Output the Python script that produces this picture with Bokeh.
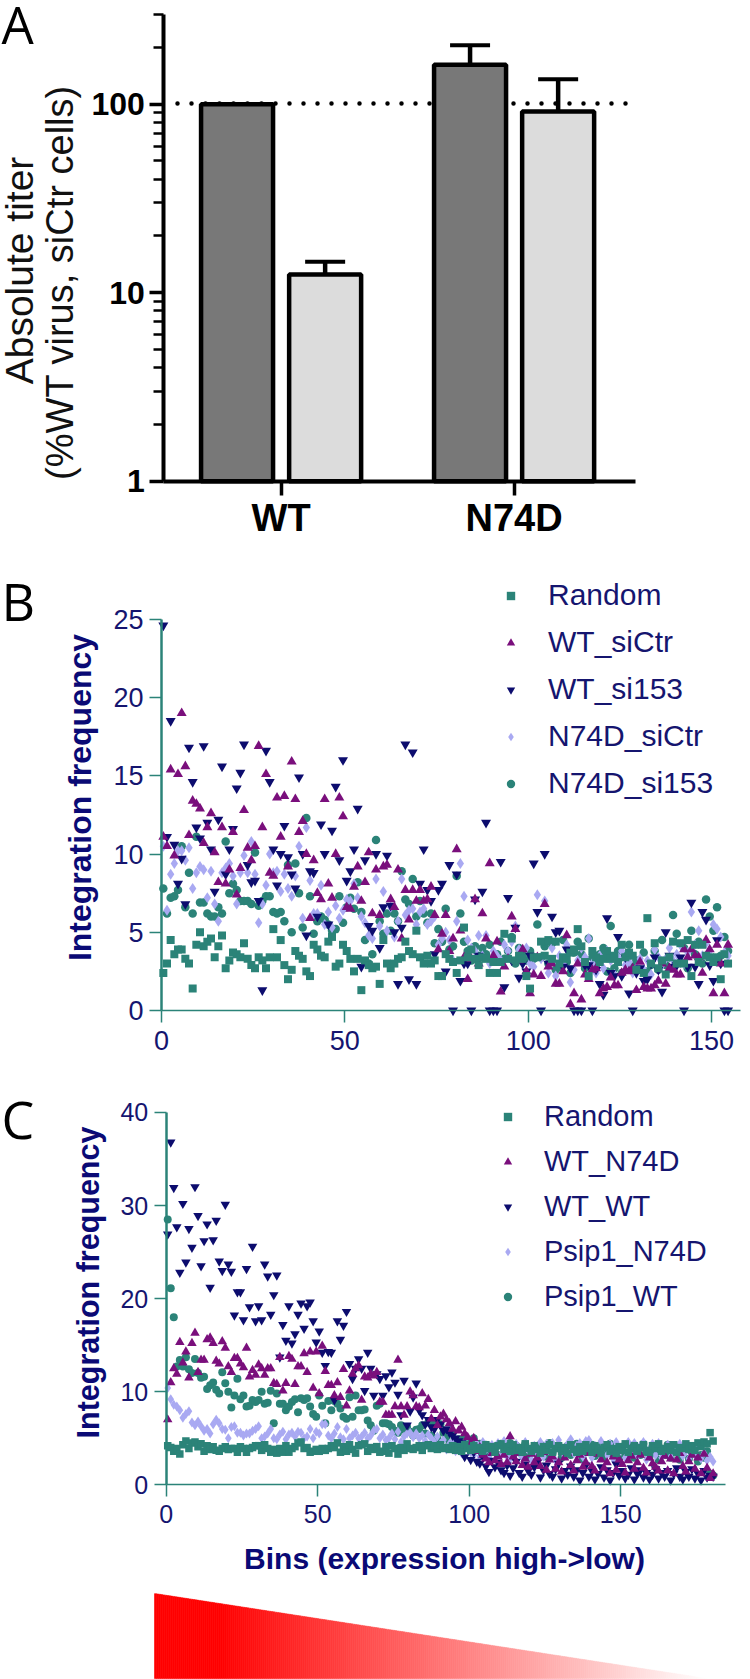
import math
from bokeh.embed import file_html
from bokeh.resources import INLINE
from bokeh.layouts import column
from bokeh.plotting import figure
from bokeh.models import FixedTicker, Label, Legend, LegendItem, Whisker, TeeHead, ColumnDataSource

# ---------- Panel A ----------
bar_groups = ["WT", "N74D"]
bar_group_index = [0, 0, 1, 1]
bar_offset = [-0.189, 0.189, -0.189, 0.189]
bar_values = [100, 12.5, 162, 91.4]
bar_upper = [100, 14.6, 205.7, 135.8]
bar_fill = ["#787878", "#DCDCDC", "#787878", "#DCDCDC"]

# ---------- Panel B ----------
b_names = ["Random", "WT_siCtr", "WT_si153", "N74D_siCtr", "N74D_si153"]
b_random = [
2.4,3.0,4.5,3.6,3.9,3.9,3.3,3.0,1.4,4.2,5.0,4.1,4.4,4.6,3.4,4.1,4.8,2.7,3.2,3.7,
3.6,3.4,4.3,3.3,2.9,2.7,3.4,3.2,2.7,3.4,5.2,3.4,4.5,2.9,2.0,2.6,3.8,3.5,3.3,2.5,
2.2,4.2,3.9,3.5,3.4,4.4,4.7,2.8,3.0,4.2,3.8,3.3,2.5,3.3,1.3,3.2,2.9,2.7,2.8,1.7,
4.5,3.0,2.7,3.0,3.3,3.4,4.4,3.8,3.6,5.1,3.4,3.0,3.5,3.0,3.2,2.2,2.2,3.6,3.3,3.1,
2.4,3.2,5.3,3.4,3.9,3.3,2.9,3.4,3.3,2.4,3.1,2.4,3.1,4.9,3.3,4.6,3.2,3.5,3.3,2.2,
1.4,3.4,3.4,4.4,3.5,4.5,3.3,4.4,3.0,3.4,3.3,3.7,3.9,5.2,4.1,3.1,2.2,3.8,3.4,3.1,
3.3,3.8,3.3,3.5,3.1,4.2,3.4,3.7,3.5,2.6,4.2,2.4,5.9,3.0,4.3,2.7,3.2,2.3,3.4,4.4,
3.0,4.3,3.0,4.5,2.2,4.2,3.1,4.2,3.5,3.4,3.1,3.4,2.0,3.6,3.0]
b_wt_sictr = [
11.1,10.5,15.4,9.9,15.1,19.0,15.6,11.2,13.4,13.2,12.9,10.7,11.7,12.6,10.1,8.2,11.7,8.1,9.0,11.4,
7.4,9.1,12.8,10.4,9.6,10.5,16.9,11.7,15.1,8.8,8.6,13.6,11.1,13.7,9.2,15.9,13.5,11.4,12.1,10.0,
5.9,9.6,7.5,7.1,13.5,8.1,7.2,10.0,13.6,12.4,6.6,6.5,7.9,9.2,7.0,8.2,10.1,6.2,9.0,6.1,
9.2,9.3,7.1,6.6,9.0,4.6,7.7,5.8,7.7,7.0,7.7,7.0,7.1,7.9,6.1,3.9,4.9,6.1,3.8,4.6,
10.3,5.1,3.4,2.0,3.3,7.1,3.0,6.2,4.6,9.4,3.5,4.4,1.2,2.8,3.3,6.0,5.2,3.2,3.9,2.5,
1.1,2.3,3.4,2.2,6.8,2.8,3.0,1.7,1.7,2.5,4.8,0.4,1.1,3.0,0.7,2.3,2.0,2.6,2.7,1.1,
1.4,1.5,2.1,1.6,1.6,2.4,2.6,2.5,2.7,1.3,3.1,1.5,1.4,1.4,1.6,1.9,3.0,1.7,2.7,2.6,
2.3,2.3,3.9,3.4,3.9,3.5,3.4,2.4,4.5,3.9,1.1,4.2,3.0,1.1,4.2]
b_wt_si153 = [
24.6,11.1,18.5,10.6,8.1,9.7,6.8,16.8,14.6,11.7,11.0,16.9,12.0,10.3,7.6,12.2,15.6,8.7,10.3,11.6,
14.2,15.2,17.0,9.3,8.2,8.3,7.0,1.3,16.6,14.6,10.3,8.0,10.0,11.8,9.8,8.7,7.8,14.9,10.0,4.8,
8.9,8.8,6.0,11.9,10.0,5.5,11.5,14.3,9.6,16.0,8.3,8.9,10.3,12.9,2.8,9.6,5.4,5.1,10.0,4.0,
6.6,9.9,6.7,5.0,1.7,5.3,17.0,2.0,16.5,1.7,8.1,10.3,7.7,7.0,3.6,7.7,8.1,2.5,9.3,0,
8.7,1.9,3.0,3.0,0,7.1,3.5,7.6,12.0,0,0,0,9.5,1.5,7.2,3.2,5.3,2.1,3.0,2.5,
3.5,9.4,6.3,0,10.0,3.0,6.0,5.0,5.1,2.8,3.9,2.7,0,0,0,2.9,2.9,0,2.6,1.7,
1.0,5.9,2.4,2.2,4.7,2.2,3.4,1.1,0,2.4,2.7,1.9,2.0,3.0,3.4,2.6,1.2,5.0,3.5,2.8,
2.9,3.4,0,2.8,6.9,2.8,1.7,6.3,5.8,2.9,1.9,4.5,3.0,0,0]
b_n74d_sictr = [
10.5,6.4,8.7,9.4,10.2,10.2,9.6,10.4,7.8,8.8,9.2,9.0,7.2,8.9,6.8,5.7,8.8,9.1,9.4,8.6,
6.8,8.8,9.9,8.8,10.8,8.7,5.6,6.8,8.0,10.0,8.8,8.9,7.6,8.7,7.8,7.3,8.6,10.5,5.9,11.7,
8.3,6.2,6.2,8.0,5.5,6.3,5.3,6.7,5.9,6.4,7.1,7.0,8.1,7.2,6.0,5.6,4.8,4.6,8.4,5.4,
7.6,5.1,6.6,4.7,5.7,8.4,6.1,6.4,6.5,5.5,6.3,6.5,5.5,5.7,6.0,4.2,4.6,5.0,4.5,3.2,
5.7,9.4,7.3,4.5,4.0,3.8,4.8,3.5,4.8,3.0,3.8,3.5,3.2,4.2,3.8,4.4,5.4,3.9,3.2,4.0,
3.0,2.8,7.4,3.3,7.0,2.4,4.0,2.2,3.5,3.0,4.2,1.8,2.6,3.2,4.0,3.4,4.6,3.0,2.4,3.5,
2.7,3.8,3.2,2.3,3.4,3.8,2.9,3.1,2.4,2.7,3.3,2.6,3.2,2.3,3.9,3.4,2.9,3.3,4.0,3.2,
3.6,4.2,3.0,3.7,6.3,4.2,5.1,3.5,4.3,3.8,5.5,5.2,4.7,3.7,3.5]
b_n74d_si153 = [
7.8,6.2,7.2,7.3,7.7,10.5,6.6,8.8,6.2,11.1,6.9,6.9,6.2,6.0,6.0,6.6,6.2,10.8,7.5,8.1,
7.7,7.0,7.0,7.0,6.8,10.1,6.7,7.0,7.3,7.3,6.3,6.2,6.3,5.7,9.3,5.0,9.4,7.5,5.3,12.3,
7.3,4.9,5.7,6.0,5.8,5.5,5.1,5.2,7.3,5.6,6.6,7.2,6.5,8.2,6.3,4.5,3.0,3.6,10.9,5.7,
4.9,6.2,5.1,6.2,5.7,8.9,7.1,6.8,8.4,6.0,7.0,6.2,5.6,6.2,4.3,5.2,4.4,6.5,3.9,4.1,
8.6,6.2,4.4,3.8,3.2,4.1,3.5,4.0,3.6,4.2,3.2,3.6,4.4,3.3,3.8,4.7,3.0,4.0,3.6,3.2,
3.8,3.3,5.5,3.4,4.1,3.0,4.3,2.6,2.8,4.5,3.1,2.4,3.7,4.4,3.6,2.7,4.6,3.4,2.9,3.6,
4.0,2.5,5.4,2.7,3.8,2.4,3.5,4.2,2.8,3.2,2.6,3.7,2.5,2.9,3.8,2.6,4.5,2.9,3.4,6.1,
4.9,3.1,4.0,2.7,5.1,3.6,4.4,3.0,7.1,6.0,5.1,6.6,3.5,4.7,3.8]

# ---------- Panel C ----------
c_names = ["Random", "WT_N74D", "WT_WT", "Psip1_N74D", "Psip1_WT"]
c_random = [
4.2,4.0,3.6,3.9,3.3,4.3,4.7,3.9,4.5,4.6,4.1,4.4,3.6,4.2,3.8,4.1,3.7,3.6,3.9,4.1,
3.8,3.9,3.9,3.5,4.1,3.9,3.5,3.9,4.0,4.2,4.2,3.7,4.3,3.9,3.5,3.8,3.4,3.9,3.5,4.2,
3.5,3.9,4.1,4.5,4.6,3.9,4.0,3.5,3.6,3.8,3.6,3.9,3.7,3.9,4.2,4.0,4.5,3.5,4.1,3.6,
4.3,3.8,3.4,4.2,4.3,4.4,3.6,4.0,3.8,4.1,3.5,3.6,4.1,3.4,4.2,3.9,3.3,4.0,3.7,4.4,
3.9,3.8,4.0,4.2,3.7,4.2,4.3,3.9,4.2,3.8,4.3,3.9,4.0,3.8,4.2,3.7,4.1,3.6,4.3,3.9,
3.7,4.2,3.8,4.0,3.6,4.3,3.9,4.1,3.5,4.2,4.4,3.8,4.1,3.6,4.3,3.7,4.0,3.5,4.4,3.9,
3.6,4.2,3.8,3.4,4.1,3.7,4.3,3.5,3.9,4.2,3.6,4.0,3.4,4.3,3.8,3.5,4.1,3.6,4.3,3.9,
3.5,4.2,3.7,3.4,4.0,4.3,3.6,3.9,3.4,4.1,3.7,4.4,3.5,3.9,4.2,3.6,4.0,4.3,3.7,3.5,
4.2,3.9,4.4,3.6,3.8,4.1,3.7,4.3,3.5,4.0,3.9,4.4,3.8,4.2,3.7,4.5,4.1,4.6,4.4,5.6,4.7]
c_wt_n74d = [
7.0,11.0,12.5,11.9,15.3,13.1,14.3,11.5,15.2,16.3,12.1,13.4,13.4,15.6,15.8,15.2,13.3,13.0,15.4,14.7,
12.7,12.1,13.6,13.6,13.0,12.6,14.7,11.6,12.3,11.8,12.9,12.5,11.8,12.5,12.5,10.9,10.8,13.7,10.1,10.9,
13.8,13.5,10.8,12.7,12.7,14.1,12.1,14.3,10.4,14.3,9.8,14.9,12.2,10.7,10.7,9.6,11.0,9.4,12.4,8.5,
10.1,11.9,12.5,12.8,9.1,11.6,11.5,11.9,11.7,12.1,8.9,8.9,7.5,7.5,7.5,8.4,13.4,8.4,7.5,8.4,
10.0,9.6,8.4,8.3,9.8,8.5,9.2,7.1,8.0,6.4,7.3,7.6,7.0,6.6,6.0,6.8,5.8,6.2,5.5,5.1,
4.4,5.0,3.6,4.0,3.2,2.8,2.4,3.4,2.6,3.0,2.2,3.2,2.4,5.2,3.0,2.5,3.4,2.1,2.8,1.9,
3.3,2.4,2.9,2.0,3.5,1.6,2.7,3.0,1.7,2.4,1.4,2.9,3.4,2.1,1.5,2.6,3.2,1.9,2.4,3.4,
2.0,1.5,3.3,2.7,1.8,2.4,1.2,3.0,1.6,2.7,2.2,1.3,2.6,3.1,1.7,2.4,3.2,1.8,1.3,2.9,
2.3,1.9,1.5,2.5,3.1,1.5,2.8,1.2,2.7,3.4,2.0,1.4,2.5,3.2,1.7,2.9,1.2,3.3,1.8,0.7,1.2]
c_wt_wt = [
26.9,36.8,31.9,27.7,22.8,30.2,23.9,27.5,25.5,32.0,28.9,23.5,26.2,28.0,21.2,26.3,28.4,24.0,23.0,30.1,
23.7,22.9,18.2,20.7,20.7,17.7,23.2,19.1,25.6,17.6,19.2,17.7,23.7,22.4,18.3,20.4,22.5,13.7,17.2,15.5,
19.2,15.2,16.2,18.3,19.5,16.8,19.2,19.6,17.6,15.3,16.5,14.2,12.8,14.3,14.2,9.1,17.6,15.6,17.1,18.6,
13.0,11.4,12.5,13.5,12.5,10.1,14.2,12.5,9.6,11.9,11.4,9.6,11.7,10.5,12.1,11.0,9.7,7.5,11.2,6.4,
7.9,9.4,10.9,8.0,7.5,6.5,7.0,6.2,6.0,7.0,6.5,5.8,6.0,5.6,5.3,5.0,4.7,4.5,3.0,4.2,
2.7,3.5,2.5,2.3,3.0,2.0,1.4,2.6,1.9,2.4,1.6,1.3,2.1,1.0,1.8,2.5,1.3,0.9,2.2,1.5,
1.1,1.9,2.4,0.8,1.6,2.1,1.2,0.9,1.7,2.3,0.7,1.5,1.1,2.0,0.9,1.6,0.5,1.3,2.1,0.9,
1.5,0.6,1.2,1.9,0.8,1.6,0.5,1.3,2.2,1.0,1.5,0.7,1.1,1.8,0.6,1.2,1.6,0.8,1.3,0.6,
1.1,1.7,0.7,1.3,0.9,1.5,0.5,1.2,1.8,0.9,0.6,1.4,0.9,1.7,0.7,1.2,0.5,1.5,0.8,1.0,0.9]
c_psip1_n74d = [
10.4,9.2,8.6,8.4,8.0,7.2,7.6,7.9,6.7,6.4,6.8,6.3,5.8,6.0,5.5,6.5,7.0,6.6,6.0,5.9,
5.0,6.2,6.3,5.6,5.6,5.3,5.5,5.5,5.8,6.0,6.3,5.0,5.2,5.5,6.0,5.0,4.9,5.4,5.7,4.9,
5.4,5.6,5.2,5.7,5.6,5.0,5.2,6.0,5.0,5.7,5.5,6.5,6.5,5.3,5.0,5.5,6.2,5.1,4.9,6.0,
5.0,5.3,5.6,5.0,5.2,5.6,5.0,5.3,5.8,6.0,5.0,5.4,4.8,5.0,5.5,4.9,5.7,4.6,5.2,5.5,
5.6,5.1,5.5,5.0,5.3,4.7,5.4,5.0,4.6,5.2,4.4,4.8,3.8,4.4,4.6,3.6,4.2,3.4,4.5,3.9,
3.5,3.2,4.4,3.0,4.6,3.7,2.9,4.3,3.5,4.5,3.2,4.7,3.0,2.8,4.0,4.4,3.4,3.0,4.6,3.7,
2.7,4.2,3.3,4.6,3.0,4.4,3.6,4.5,2.6,4.8,3.9,3.1,4.4,4.9,3.4,4.2,4.5,3.0,4.7,4.8,
2.9,4.2,3.6,4.7,4.0,3.2,4.4,2.8,4.6,3.5,4.1,2.9,4.6,3.7,4.5,3.1,4.2,4.6,2.7,3.8,
4.4,3.2,4.5,2.9,3.7,4.3,3.0,4.1,3.4,4.4,3.1,3.6,2.8,3.9,3.2,4.2,2.8,3.4,2.6,3.0,2.5]
c_psip1_wt = [
28.5,21.1,18.0,12.7,13.4,12.7,13.7,12.4,12.0,13.5,12.0,11.5,11.6,10.3,10.7,11.0,10.2,9.8,12.1,10.9,
10.0,8.3,9.6,11.4,9.2,9.6,8.4,8.5,9.1,8.9,9.1,10.0,8.7,8.8,10.1,6.6,9.8,8.7,8.7,8.0,
8.4,8.9,9.2,7.8,9.3,9.1,9.3,8.4,7.6,7.3,9.6,8.5,6.6,9.0,8.0,9.0,8.7,8.2,7.3,7.1,
9.4,7.3,9.6,8.0,8.0,8.1,6.9,6.4,5.8,8.5,8.7,6.6,6.6,6.5,6.2,5.8,5.6,6.4,5.9,6.2,
5.7,5.3,5.9,6.0,6.4,5.5,6.7,5.3,6.5,5.0,6.5,5.6,5.0,4.4,5.6,4.6,4.9,4.8,5.1,4.2,
4.5,5.0,3.8,4.4,3.6,4.3,3.4,4.1,3.9,3.2,4.4,3.5,3.8,4.5,3.1,4.2,3.6,3.9,4.4,3.0,
3.6,4.0,3.3,4.3,3.8,3.0,4.5,3.4,3.9,4.1,2.9,3.6,4.2,3.2,3.8,4.4,3.4,2.8,4.0,3.5,
4.3,3.1,3.7,4.1,2.9,3.6,4.4,3.2,3.8,2.8,4.0,3.3,4.3,3.6,2.9,3.9,3.2,4.4,3.5,3.0,
4.1,3.4,2.7,3.9,3.2,4.3,2.9,3.6,4.0,2.7,3.5,3.9,2.8,3.4,4.1,2.5,3.2,2.9,3.6,1.2,1.0]

# ---------- Style constants ----------
TEAL = "#2B8378"
PURPLE = "#7A0F7C"
NAVY = "#0C0C6E"
LAV = "#A9A9F2"
TXT = "#15156F"
FONT = "Liberation Sans"
PAGE_W = 750


def text_label(p, x, y, text, size, color, bold=False, angle=0, font=FONT, align="left", baseline="middle"):
    p.add_layout(Label(x=x, y=y, text=text, angle=angle, text_font=font, text_font_size=f"{size}px",
                       text_color=color, text_font_style="bold" if bold else "normal",
                       text_align=align, text_baseline=baseline))


# ---------- Figure A ----------
A_TOP, A_BOT = 0, 545
A_X0, A_XS = 280.6, 233.0
A_Y1, A_YS = 480.7, 188.5
ax = lambda px: (px - A_X0) / A_XS
ay = lambda py: 10 ** ((A_Y1 - py) / A_YS)
pa = figure(width=PAGE_W, height=A_BOT - A_TOP, toolbar_location=None, output_backend="svg",
            x_range=(ax(0), ax(PAGE_W)), y_range=(ay(A_BOT), ay(A_TOP)), y_axis_type="log",
            min_border=0, outline_line_color=None)
pa.grid.visible = False
xs = [g + o for g, o in zip(bar_group_index, bar_offset)]
pa.line([ax(177), ax(628)], [101, 101], line_color="black", line_width=4.5, line_dash="0 14", line_cap="round", level="underlay")
src = ColumnDataSource(dict(x=xs, upper=bar_upper, lower=bar_values))
pa.add_layout(Whisker(base="x", upper="upper", lower="lower", source=src, line_color="black", line_width=4.5,
                      upper_head=TeeHead(size=40, line_color="black", line_width=4), lower_head=None, level="underlay"))
pa.vbar(x=xs, top=bar_values, bottom=1, width=0.309, fill_color=bar_fill, line_color="black", line_width=4.5)
pa.xaxis.fixed_location = 1
pa.yaxis.fixed_location = -0.503
pa.xaxis.bounds = (-0.503, 1.52)
pa.yaxis.bounds = (1, 300)
pa.xaxis.ticker = FixedTicker(ticks=[0, 1])
pa.xaxis.major_label_overrides = {0: bar_groups[0], 1: bar_groups[1]}
pa.yaxis.ticker = FixedTicker(ticks=[1, 10, 100], minor_ticks=[2, 3, 4, 5, 6, 7, 8, 9, 20, 30, 40, 50, 60, 70, 80, 90, 200, 300])
pa.yaxis.major_label_overrides = {1: "1", 10: "10", 100: "100"}
for a in (pa.xaxis[0], pa.yaxis[0]):
    a.axis_line_color = "black"
    a.axis_line_width = 4
    a.major_tick_line_color = "black"
    a.major_tick_line_width = 3.5
    a.minor_tick_line_color = "black"
    a.minor_tick_line_width = 2.7
    a.major_tick_in = 0
    a.minor_tick_in = 0
    a.major_label_text_font = FONT
    a.major_label_text_font_style = "bold"
    a.major_label_text_color = "black"
pa.xaxis.major_label_text_font_size = "38px"
pa.yaxis.major_label_text_font_size = "32px"
pa.xaxis.major_tick_out = 14
pa.xaxis.minor_tick_out = 0
pa.xaxis.major_label_standoff = 2
pa.yaxis.major_tick_out = 14
pa.yaxis.minor_tick_out = 10
pa.yaxis.major_label_standoff = 5
pa.yaxis.major_label_orientation = "horizontal"
text_label(pa, ax(19), ay(270), "Absolute titer", 39, "#111111", angle=math.pi / 2, align="center")
text_label(pa, ax(59), ay(282), "(%WT virus, siCtr cells)", 38, "#111111", angle=math.pi / 2, align="center")
text_label(pa, ax(1), ay(23), "A", 51, "black", font="Open Sans")


def scatter_panel(top, bot, x0, xs_, y0, ys_, xmax, ymax, yticks, xticks, series, names, sizes, leg_x, leg_y, leg_font,
                  leg_spacing, standoff, tick_font, title_x, title_y, title_size, letter, letter_y):
    fx = lambda px: (px - x0) / xs_
    fy = lambda py: (y0 - py) / ys_
    p = figure(width=PAGE_W, height=bot - top, toolbar_location=None, output_backend="svg",
               x_range=(fx(0), fx(PAGE_W)), y_range=(fy(bot), fy(top)), min_border=0, outline_line_color=None)
    p.grid.visible = False
    markers = ["square", "triangle", "inverted_triangle", "diamond", "circle"]
    colors = [TEAL, PURPLE, NAVY, LAV, TEAL]
    rends = {}
    for i in [4, 3, 2, 1, 0]:
        vals = series[i]
        bins = [k + 0.5 for k in range(len(vals))]
        rends[i] = p.scatter(bins, vals, marker=markers[i], size=sizes[i], fill_color=colors[i], line_color=None)
    p.xaxis.fixed_location = 0
    p.yaxis.fixed_location = 0
    p.xaxis.bounds = (0, xmax)
    p.yaxis.bounds = (0, ymax)
    p.xaxis.ticker = FixedTicker(ticks=xticks, minor_ticks=[])
    p.yaxis.ticker = FixedTicker(ticks=yticks, minor_ticks=[])
    for a in (p.xaxis[0], p.yaxis[0]):
        a.axis_line_color = TEAL
        a.major_tick_line_color = TEAL
        a.major_tick_line_width = 1.5
        a.major_tick_in = 0
        a.major_tick_out = 12
        a.minor_tick_in = 0
        a.minor_tick_out = 0
        a.major_label_text_font = FONT
        a.major_label_text_color = TXT
        a.major_label_text_font_size = f"{tick_font}px"
    p.xaxis.axis_line_width = 1.5
    p.yaxis.axis_line_width = 2.5
    p.xaxis.major_label_standoff = 8
    p.yaxis.major_label_standoff = 6
    p.yaxis.major_label_orientation = "horizontal"
    leg = Legend(items=[LegendItem(label=names[i], renderers=[rends[i]]) for i in range(5)],
                 location=(leg_x, leg_y), orientation="vertical", border_line_color=None, background_fill_alpha=0,
                 margin=0, padding=0, glyph_width=21, glyph_height=21, label_standoff=standoff, spacing=leg_spacing,
                 label_text_font=FONT, label_text_font_size=f"{leg_font}px", label_text_color=TXT,
                 label_text_baseline="middle")
    p.add_layout(leg, "center")
    text_label(p, fx(title_x), fy(title_y), "Integration frequency", title_size, "#0A0A75", bold=True,
               angle=math.pi / 2, align="center")
    text_label(p, fx(1), fy(letter_y), letter, 52, "black", font="Open Sans")
    return p, fx, fy


# ---------- Figure B ----------
B_TOP, B_BOT = 545, 1075
pb, bx, by = scatter_panel(B_TOP, B_BOT, 161.0, 3.667, 1010.0, 15.65, 158, 25, [0, 5, 10, 15, 20, 25], [0, 50, 100, 150],
                           [b_random, b_wt_sictr, b_wt_si153, b_n74d_sictr, b_n74d_si153], b_names,
                           [8, 10, 10, 11, 8.5], 500, B_BOT - 800, 30, 13, 27, 27, 79, 797, 32, "B", 600)

# ---------- Figure C ----------
C_TOP, C_BOT = 1075, 1585
pc, cx, cy = scatter_panel(C_TOP, C_BOT, 165.7, 3.03, 1484.3, 9.31, 184.6, 40, [0, 10, 20, 30, 40], [0, 50, 100, 150],
                           [c_random, c_wt_n74d, c_wt_wt, c_psip1_n74d, c_psip1_wt], c_names,
                           [7.5, 9.5, 9.5, 10, 8], 497, C_BOT - 1313, 29, 12, 26, 25, 87, 1282, 30.5, "C", 1118)
text_label(pc, cx(444), cy(1558), "Bins (expression high->low)", 30, "#0A0A75", bold=True, align="center")

# ---------- Figure D: expression wedge ----------
wedge_top = 1593
wedge_bot = 1678
wedge_left = 154
wedge_right = 706
D_TOP, D_BOT = 1585, 1679
pd_ = figure(width=PAGE_W, height=D_BOT - D_TOP, toolbar_location=None, output_backend="svg",
             x_range=(0, PAGE_W), y_range=(D_BOT, D_TOP), min_border=0, outline_line_color=None)
pd_.axis.visible = False
pd_.grid.visible = False
lefts, rights, tops, cols = [], [], [], []
step = 2
n = (wedge_right - wedge_left) // step
for i in range(n):
    l = wedge_left + i * step
    f = (i + 0.5) / n
    g = max(0.0, (f - 0.12) / 0.88)
    c = int(round(255 * g))
    lefts.append(l)
    rights.append(l + step)
    tops.append(wedge_top + (wedge_bot - wedge_top) * f)
    cols.append(f"#ff{c:02x}{c:02x}")
pd_.quad(left=lefts, right=rights, top=tops, bottom=[wedge_bot] * n, fill_color=cols, line_color=cols, line_width=0.6)

root = column(pa, pb, pc, pd_, spacing=0)
open("out.html", "w").write(file_html(root, INLINE))
